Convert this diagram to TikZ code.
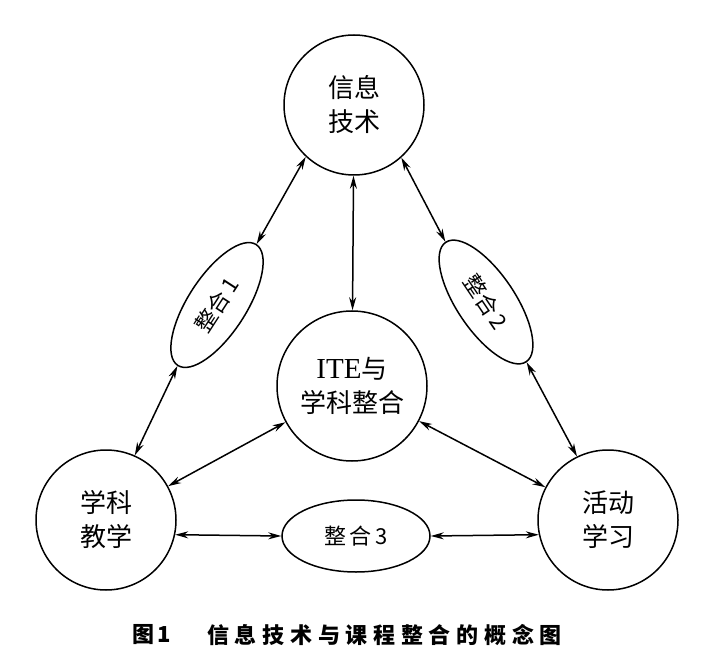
\documentclass[tikz,border=0pt]{standalone}
\usepackage{fontspec}
\setmainfont{Liberation Serif}
\newfontfamily\cjk{Noto Sans CJK SC}
\usetikzlibrary{arrows.meta,shapes.geometric}
\begin{document}
\begin{tikzpicture}[x=1pt,y=-1pt,
  bubble/.style={circle,draw,line width=1.5pt,minimum size=140pt,inner sep=0pt,align=center,
    font=\cjk\fontsize{26}{34}\selectfont},
  oval/.style={ellipse,draw,line width=1.5pt,inner sep=0pt,
    font=\cjk\fontsize{22}{26}\selectfont},
  link/.style={line width=1.5pt,{Stealth[length=13pt,width=7pt]}-{Stealth[length=13pt,width=7pt]}},
  captext/.style={font=\cjk\bfseries\fontsize{22}{26}\selectfont,anchor=west,inner sep=0pt}]
\useasboundingbox (0,0) rectangle (712,668);
\node[bubble] (top) at (354,105) {信息\\技术};
\node[bubble,minimum size=150pt] (mid) at (352,386) {{\rmfamily\fontsize{29}{34}\selectfont ITE}与\\学科整合};
\node[bubble] (bl) at (106,520) {学科\\教学};
\node[bubble] (br) at (608,520) {活动\\学习};
\node[oval,rotate=57,minimum width=144pt,minimum height=58pt] (e1) at (217,305) {整合\,1};
\node[oval,rotate=-56,minimum width=144pt,minimum height=58pt] (e2) at (486,302) {整合\,2};
\node[oval,minimum width=148pt,minimum height=72pt] (e3) at (356,536) {整\,合\,3};
\draw[link] (top.227) -- (e1.east);
\draw[link] (e1.west) -- (bl.66);
\draw[link] (top.312) -- (e2.west);
\draw[link] (e2.east) -- (br.116);
\draw[link] (top) -- (mid);
\draw[link] (mid) -- (bl);
\draw[link] (mid) -- (br);
\draw[link] (bl.-12) -- (e3.west);
\draw[link] (e3.east) -- (br.192);
\node[captext] (c1) at (132,635) {图\,1};
\node[captext] (c2) at (207,635) {\addfontfeature{LetterSpace=26}信息技术与课程整合的概念图};
\end{tikzpicture}
\end{document}
